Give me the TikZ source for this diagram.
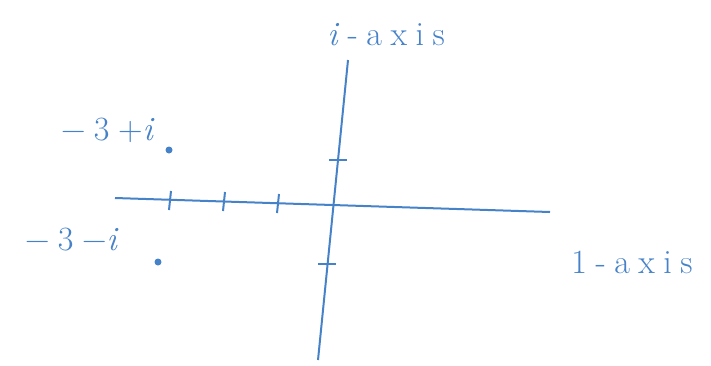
\documentclass[tikz,border=0pt]{standalone}
\usepackage{fontspec}
\usepackage{xcolor}
\usepackage{tikz}
\usetikzlibrary{arrows.meta,calc,positioning}
\newfontfamily\handfont[LetterSpace=25]{Latin Modern Roman}
\definecolor{penblue}{RGB}{70,130,200}
\tikzset{
  axisline/.style={penblue,line width=2pt},
  tickmark/.style={penblue,line width=2pt},
  handlabel/.style={penblue,font=\handfont\fontsize{34}{40}\selectfont},
  dotmark/.style={circle,fill=penblue,inner sep=0pt,minimum size=7pt}
}

\begin{document}
\begin{tikzpicture}[x=1pt,y=-1pt]
  \useasboundingbox (0,0) rectangle (711,365);
  % axes
  \coordinate (reL) at (115,198);
  \coordinate (reR) at (550,212);
  \coordinate (imT) at (348,60);
  \coordinate (imB) at (318,360);
  \draw[axisline] (reL) -- (reR);
  \draw[axisline] (imT) -- (imB);
  % ticks on the real axis
  \foreach \x/\y in {170/200,224/201,278/203} {\draw[tickmark] (\x+1,\y-9)--(\x-1,\y+10);}
  % ticks on the imaginary axis
  \foreach \x/\y in {338/160,327/264} {\draw[tickmark] (\x-9,\y)--(\x+9,\y);}
  % points and labels
  \node[dotmark] (pUp) at (169,150) {};
  \node[dotmark] (pDn) at (158,262) {};
  \node[handlabel] (lUp) at (112,130) {−3+\textit{i}};
  \node[handlabel] (lDn) at (76,240) {−3−\textit{i}};
  \node[handlabel] (lIm) at (386,35) {\textit{i}-axis};
  \node[handlabel] (lRe) at (632,262) {1-axis};
\end{tikzpicture}
\end{document}
